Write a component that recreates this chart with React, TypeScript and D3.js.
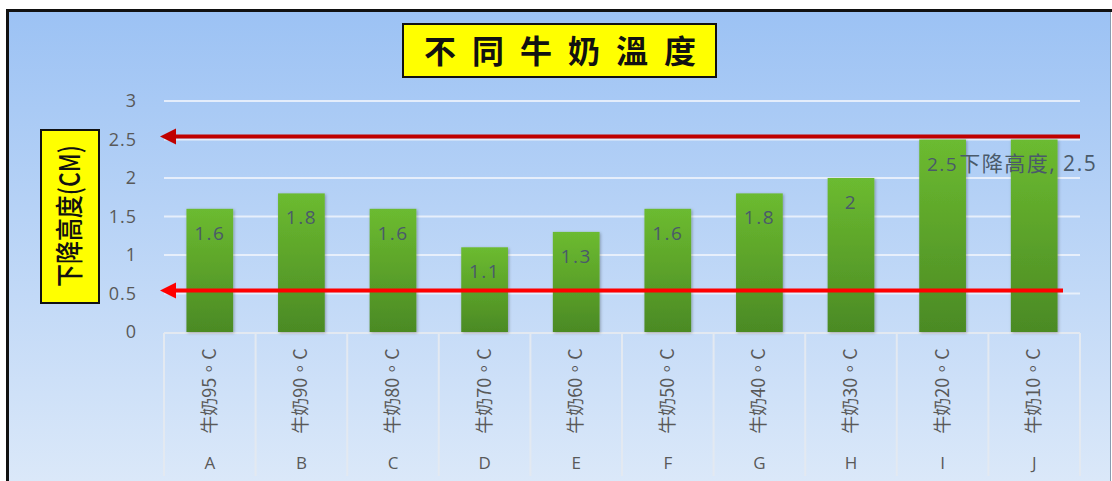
import React from 'react';
import * as d3 from 'd3';

const categories = ['A', 'B', 'C', 'D', 'E', 'F', 'G', 'H', 'I', 'J'];
const tempLabels = ['牛奶95。C', '牛奶90。C', '牛奶80。C', '牛奶70。C', '牛奶60。C', '牛奶50。C', '牛奶40。C', '牛奶30。C', '牛奶20。C', '牛奶10。C'];
const values = [1.6, 1.8, 1.6, 1.1, 1.3, 1.6, 1.8, 2, 2.5, 2.5];
const yTicks = [0, 0.5, 1, 1.5, 2, 2.5, 3];
const titleText = '不同牛奶溫度';
const yTitle = '下降高度(CM)';
const seriesName = '下降高度';
const arrowLevels = [2.5, 0.5];

const W = 1112;
const H = 481;
const plot = { left: 164, right: 1080, top: 101, bottom: 332 };

export default function App() {
  const x = d3.scaleBand<string>().domain(categories).range([plot.left, plot.right]).paddingInner(0.49).paddingOuter(0.245);
  const xb = d3.scaleBand<string>().domain(categories).range([plot.left, plot.right]);
  const y = d3.scaleLinear().domain([0, 3]).range([plot.bottom, plot.top]);
  const font = "'Noto Sans CJK TC', 'Open Sans', sans-serif";
  const gray = '#595959';
  return (
    <svg width={W} height={H} style={{ position: 'absolute', left: 0, top: 0 }}>
      <defs>
        <linearGradient id="bg" x1="0" y1="0" x2="0" y2="1">
          <stop offset="0" stopColor="#9cc2f4" />
          <stop offset="1" stopColor="#dce9f9" />
        </linearGradient>
        <linearGradient id="bar" x1="0" y1="0" x2="0" y2="1">
          <stop offset="0" stopColor="#6cbb30" />
          <stop offset="1" stopColor="#4b8a24" />
        </linearGradient>
        <filter id="sh" x="-20%" y="-10%" width="140%" height="120%">
          <feDropShadow dx="1" dy="1" stdDeviation="1.5" floodColor="#000" floodOpacity="0.3" />
        </filter>
      </defs>
      <rect x={0} y={0} width={W} height={H} fill="#fff" />
      <rect x={8} y={11} width={W - 9} height={H} fill="url(#bg)" />
      <line x1={7.5} y1={10} x2={7.5} y2={H} stroke="#111" strokeWidth={3} />
      <line x1={6} y1={10.5} x2={W} y2={10.5} stroke="#111" strokeWidth={3} />
      <line x1={1110.5} y1={12} x2={1110.5} y2={H} stroke="#8a9bb0" strokeWidth={1} />

      {/* title */}
      <rect x={403} y={24} width={313} height={53} fill="#ffff00" stroke="#111" strokeWidth={2} />
      <text x={568} y={63} textAnchor="middle" fontFamily={font} fontWeight={600} fontSize={32} letterSpacing={16} fill="#111">{titleText}</text>

      {/* gridlines */}
      {yTicks.filter(t => t > 0).map(t => (
        <line key={t} x1={plot.left} x2={plot.right} y1={y(t)} y2={y(t)} stroke="#eef3fb" strokeOpacity={0.85} strokeWidth={2} />
      ))}
      {yTicks.map(t => (
        <text key={t} x={137} y={y(t) + 6} textAnchor="end" fontFamily="'Open Sans', sans-serif" fontSize={18} letterSpacing={1} fill={gray}>{String(t)}</text>
      ))}

      {/* y title */}
      <rect x={41} y={130} width={58} height={173} fill="#ffff00" stroke="#111" strokeWidth={2} />
      <text transform={`translate(80,${216}) rotate(-90)`} textAnchor="middle" fontFamily={font} fontWeight={500} fontSize={28} textLength={142} lengthAdjust="spacingAndGlyphs" fill="#111">{yTitle}</text>

      {/* category axis */}
      <line x1={plot.left} x2={plot.right} y1={plot.bottom + 1} y2={plot.bottom + 1} stroke="#e3e9f1" strokeWidth={2} />
      {categories.map(c => (
        <line key={c} x1={xb(c)!} x2={xb(c)!} y1={plot.bottom + 1} y2={476} stroke="#e3e9f1" strokeWidth={2} />
      ))}
      <line x1={plot.right} x2={plot.right} y1={plot.bottom + 1} y2={476} stroke="#e3e9f1" strokeWidth={2} />
      {categories.map((c, i) => {
        const cx = xb(c)! + xb.bandwidth() / 2;
        return (
          <g key={c}>
            <text transform={`translate(${cx + 6},391) rotate(-90)`} textAnchor="middle" fontFamily={font} fontSize={18} fill={gray}>{tempLabels[i]}</text>
            <text x={cx} y={469} textAnchor="middle" fontFamily="'Open Sans', sans-serif" fontSize={17} fill={gray}>{c}</text>
          </g>
        );
      })}

      {/* bars */}
      {categories.map((c, i) => (
        <rect key={c} x={x(c)!} y={y(values[i])} width={x.bandwidth()} height={y(0) - y(values[i])} fill="url(#bar)" filter="url(#sh)" />
      ))}

      {/* arrows */}
      {arrowLevels.map((lv, i) => {
        const yy = y(lv) - 3;
        const color = i === 0 ? '#c00000' : '#ff0000';
        const xEnd = i === 0 ? plot.right : 1063;
        return (
          <g key={lv}>
            <line x1={175} x2={xEnd} y1={yy} y2={yy} stroke={color} strokeWidth={4} />
            <path d={`M160,${yy} L176,${yy - 8} L176,${yy + 8} Z`} fill={color} />
          </g>
        );
      })}

      {/* data labels */}
      {categories.map((c, i) => {
        const isLast = i === categories.length - 1;
        const cx = x(c)! + x.bandwidth() / 2 - (isLast ? 6 : 0);
        const label = isLast ? `${seriesName}, ${values[i]}` : String(values[i]);
        return (
          <text key={c} x={cx} y={y(values[i]) + 31} textAnchor="middle" fontFamily="'Open Sans', 'Noto Sans CJK TC', sans-serif" fontSize={isLast ? 21 : 19} letterSpacing={1.5} fill="#4a5a6a">{label}</text>
        );
      })}
    </svg>
  );
}
